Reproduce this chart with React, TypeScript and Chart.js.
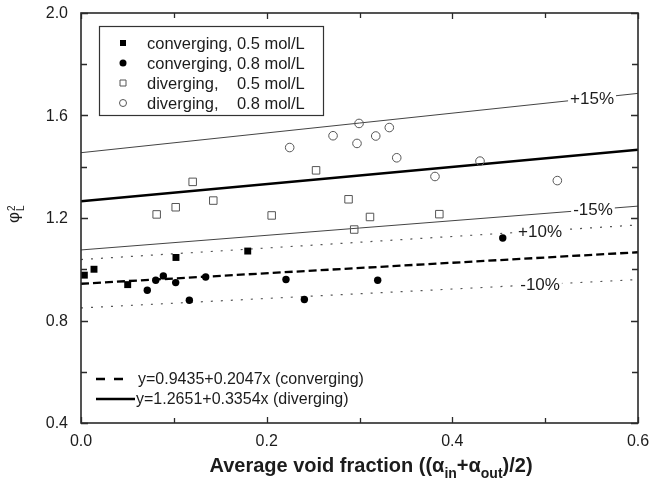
import React, { useEffect, useRef } from "react";
import { Chart, registerables } from "chart.js";
Chart.register(...registerables);

// ---- data ----
const convX05 = [0.0036, 0.014, 0.0503, 0.1023, 0.1796];
const convY05 = [0.977, 1.0, 0.94, 1.046, 1.071];
const convX08 = [0.0714, 0.0805, 0.0887, 0.102, 0.1167, 0.1343, 0.2208, 0.2406, 0.3196, 0.4543];
const convY08 = [0.918, 0.957, 0.974, 0.948, 0.879, 0.97, 0.96, 0.882, 0.957, 1.122];
const divX05 = [0.0815, 0.102, 0.1203, 0.1425, 0.2054, 0.2532, 0.2882, 0.2943, 0.3113, 0.386];
const divY05 = [1.214, 1.242, 1.341, 1.268, 1.21, 1.386, 1.273, 1.155, 1.204, 1.215];
const divX08 = [0.2248, 0.2715, 0.2995, 0.2973, 0.3175, 0.3321, 0.3401, 0.3813, 0.4298, 0.5131];
const divY08 = [1.475, 1.521, 1.569, 1.491, 1.52, 1.553, 1.435, 1.362, 1.422, 1.346];

// regression fits from the legend: y = a + b x
const fitConv = [0.9435, 0.2047];
const fitDiv = [1.2651, 0.3354];
const fitRangeX = [0, 0.6];
const convBand = [1.1, 0.9];
const divBand = [1.15, 0.85];
const bandLabels = ["+10%", "-10%", "+15%", "-15%"];
const bandLabelX = [0.4945, 0.4945, 0.5505, 0.5515];

const legendLabels = [
  ["converging,", "0.5 mol/L"],
  ["converging,", "0.8 mol/L"],
  ["diverging,", "0.5 mol/L"],
  ["diverging,", "0.8 mol/L"],
];
const fitLegendLabels = ["y=0.9435+0.2047x (converging)", "y=1.2651+0.3354x (diverging)"];

const X_MAJOR = [0, 0.2, 0.4, 0.6];
const X_MINOR = [0.1, 0.3, 0.5];
const Y_MAJOR = [0.4, 0.8, 1.2, 1.6, 2.0];
const Y_MINOR = [0.6, 1.0, 1.4, 1.8];

const FONT = '"Liberation Sans", Arial, Helvetica, sans-serif';
const TXT = "#1c1c1c";

const zip = (xs: number[], ys: number[]) => xs.map((x, i) => ({ x, y: ys[i] }));
const fitLine = (fit: number[], f: number) => fitRangeX.map((x) => ({ x, y: (fit[0] + fit[1] * x) * f }));

function drawMarker(ctx: CanvasRenderingContext2D, kind: number, x: number, y: number, s: number) {
  ctx.save();
  ctx.beginPath();
  if (kind === 0 || kind === 2) ctx.rect(x - s / 2, y - s / 2, s, s);
  else ctx.arc(x, y, s / 2, 0, Math.PI * 2);
  if (kind < 2) {
    ctx.fillStyle = "#000";
    ctx.fill();
  } else {
    ctx.fillStyle = "#fff";
    ctx.fill();
    ctx.strokeStyle = "#555";
    ctx.lineWidth = 1;
    ctx.stroke();
  }
  ctx.restore();
}

const decorPlugin = {
  id: "decor",
  afterDatasetsDraw(chart: any) {
    const ctx: CanvasRenderingContext2D = chart.ctx;
    const { left, right, top, bottom } = chart.chartArea;
    const xs = chart.scales.x;
    const ys = chart.scales.y;
    ctx.save();

    // band labels with white gap
    const bandDefs = [
      [fitConv, convBand[0]],
      [fitConv, convBand[1]],
      [fitDiv, divBand[0]],
      [fitDiv, divBand[1]],
    ] as [number[], number][];
    ctx.font = `17px ${FONT}`;
    ctx.textAlign = "center";
    ctx.textBaseline = "middle";
    bandDefs.forEach(([fit, f], i) => {
      const vx = bandLabelX[i];
      const px = xs.getPixelForValue(vx);
      const py = ys.getPixelForValue((fit[0] + fit[1] * vx) * f);
      const w = ctx.measureText(bandLabels[i]).width;
      ctx.fillStyle = "#fff";
      ctx.fillRect(px - w / 2 - 2, py - 8, w + 4, 16);
      ctx.fillStyle = TXT;
      ctx.fillText(bandLabels[i], px, py + 1);
    });

    // frame
    ctx.strokeStyle = "#2a2a2a";
    ctx.lineWidth = 1.6;
    ctx.strokeRect(left, top, right - left, bottom - top);

    // ticks (inward)
    ctx.lineWidth = 1.3;
    ctx.beginPath();
    const tickX = (vals: number[], len: number) =>
      vals.forEach((v) => {
        const p = Math.round(xs.getPixelForValue(v)) + 0.5;
        ctx.moveTo(p, bottom);
        ctx.lineTo(p, bottom - len);
        ctx.moveTo(p, top);
        ctx.lineTo(p, top + len);
      });
    const tickY = (vals: number[], len: number) =>
      vals.forEach((v) => {
        const p = Math.round(ys.getPixelForValue(v)) + 0.5;
        ctx.moveTo(left, p);
        ctx.lineTo(left + len, p);
        ctx.moveTo(right, p);
        ctx.lineTo(right - len, p);
      });
    tickX(X_MAJOR, 6);
    tickX(X_MINOR, 5);
    tickY(Y_MAJOR, 7);
    tickY(Y_MINOR, 6);
    ctx.stroke();

    // tick labels
    ctx.fillStyle = TXT;
    ctx.font = `16px ${FONT}`;
    ctx.textAlign = "center";
    ctx.textBaseline = "top";
    X_MAJOR.forEach((v) => ctx.fillText(v.toFixed(1), xs.getPixelForValue(v), bottom + 11));
    ctx.textAlign = "right";
    ctx.textBaseline = "middle";
    Y_MAJOR.forEach((v) => ctx.fillText(v.toFixed(1), left - 13, ys.getPixelForValue(v) + 1));

    // legend box (top-left)
    ctx.strokeStyle = "#333";
    ctx.lineWidth = 1.2;
    ctx.strokeRect(99.5, 26.5, 224, 89);
    ctx.font = `16.5px ${FONT}`;
    ctx.textAlign = "left";
    ctx.textBaseline = "middle";
    const secondX = 147 + ctx.measureText("converging, ").width;
    const markerSizes = [6, 7, 6, 7];
    legendLabels.forEach((lab, i) => {
      const y = 43 + i * 20;
      drawMarker(ctx, i, 123, y, markerSizes[i]);
      ctx.fillStyle = TXT;
      ctx.fillText(lab[0], 147, y + 1);
      ctx.fillText(lab[1], secondX, y + 1);
    });

    // fit legend (bottom-left)
    ctx.font = `16px ${FONT}`;
    ctx.strokeStyle = "#000";
    ctx.lineWidth = 2.4;
    ctx.beginPath();
    ctx.setLineDash([9, 9]);
    ctx.moveTo(96, 379);
    ctx.lineTo(124, 379);
    ctx.stroke();
    ctx.setLineDash([]);
    ctx.beginPath();
    ctx.moveTo(96, 399);
    ctx.lineTo(135, 399);
    ctx.stroke();
    ctx.fillStyle = TXT;
    ctx.fillText(fitLegendLabels[0], 138, 380);
    ctx.fillText(fitLegendLabels[1], 136, 400);

    // x title
    const parts: [string, boolean][] = [
      ["Average void fraction ((α", false],
      ["in", true],
      ["+α", false],
      ["out", true],
      [")/2)", false],
    ];
    const big = `bold 20px ${FONT}`;
    const small = `bold 14px ${FONT}`;
    let total = 0;
    parts.forEach(([t, s]) => {
      ctx.font = s ? small : big;
      total += ctx.measureText(t).width;
    });
    let cx = 371 - total / 2;
    ctx.textBaseline = "alphabetic";
    parts.forEach(([t, s]) => {
      ctx.font = s ? small : big;
      ctx.fillText(t, cx, s ? 478 : 472);
      cx += ctx.measureText(t).width;
    });

    // y title (rotated)
    ctx.translate(14, 223);
    ctx.rotate(-Math.PI / 2);
    ctx.font = `17px ${FONT}`;
    ctx.textBaseline = "middle";
    ctx.fillText("φ", 0, 0);
    const w = ctx.measureText("φ").width;
    ctx.font = `10px ${FONT}`;
    ctx.fillText("2", w + 1, -2);
    ctx.fillText("L", w + 1, 7);

    ctx.restore();
  },
};

export default function App() {
  const ref = useRef<HTMLCanvasElement | null>(null);
  useEffect(() => {
    document.body.style.margin = "0";
    const canvas = ref.current!;
    const pt = (style: string, r: number, filled: boolean) => ({
      showLine: false,
      pointStyle: style,
      pointRadius: r,
      pointHoverRadius: r,
      pointBackgroundColor: filled ? "#000" : "rgba(255,255,255,0)",
      pointBorderColor: filled ? "#000" : "#555",
      pointBorderWidth: filled ? 0 : 1,
    });
    const ln = (color: string, width: number, dash: number[]) => ({
      showLine: true,
      pointRadius: 0,
      borderColor: color,
      borderWidth: width,
      borderDash: dash,
      fill: false,
    });
    const chart = new Chart(canvas, {
      type: "scatter",
      data: {
        datasets: [
          { label: "c05", data: zip(convX05, convY05), ...pt("rect", 4.9, true) },
          { label: "c08", data: zip(convX08, convY08), ...pt("circle", 3.7, true) },
          { label: "d05", data: zip(divX05, divY05), ...pt("rect", 5.3, false) },
          { label: "d08", data: zip(divX08, divY08), ...pt("circle", 4.3, false) },
          { label: "fitDiv", data: fitLine(fitDiv, 1), ...ln("#000", 2.4, []) },
          { label: "divHi", data: fitLine(fitDiv, divBand[0]), ...ln("#444", 1, []) },
          { label: "divLo", data: fitLine(fitDiv, divBand[1]), ...ln("#444", 1, []) },
          { label: "fitConv", data: fitLine(fitConv, 1), ...ln("#000", 2.3, [8, 4]) },
          { label: "convHi", data: fitLine(fitConv, convBand[0]), ...ln("#555", 1.2, [2, 8]) },
          { label: "convLo", data: fitLine(fitConv, convBand[1]), ...ln("#555", 1.2, [2, 8]) },
        ] as any,
      },
      options: {
        responsive: false,
        animation: false,
        devicePixelRatio: 1,
        layout: { padding: { left: 81, right: 11, top: 13, bottom: 59 } },
        plugins: { legend: { display: false }, tooltip: { enabled: false } },
        scales: {
          x: { type: "linear", min: 0, max: 0.6, display: false },
          y: { type: "linear", min: 0.4, max: 2.0, display: false },
        },
      },
      plugins: [decorPlugin],
    });
    return () => chart.destroy();
  }, []);
  return <canvas ref={ref} width={649} height={482} style={{ display: "block" }} />;
}
